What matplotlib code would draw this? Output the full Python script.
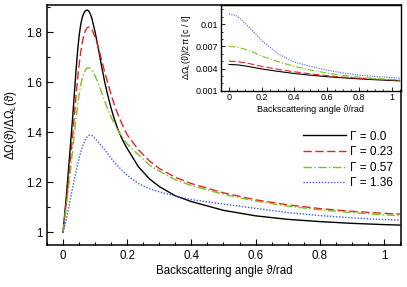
import matplotlib
matplotlib.use("Agg")
import matplotlib.pyplot as plt
from matplotlib.ticker import MultipleLocator

plt.rcParams['font.family'] = ['Liberation Sans', 'DejaVu Sans']
plt.rcParams['mathtext.fontset'] = 'custom'
plt.rcParams['mathtext.rm'] = 'Liberation Sans'
plt.rcParams['mathtext.it'] = 'Liberation Sans:italic'

# main panel: relative width vs angle
theta = [0, 0.01, 0.02, 0.03, 0.04, 0.045, 0.05, 0.055, 0.06, 0.065, 0.07, 0.075, 0.08,
         0.085, 0.09, 0.10, 0.11, 0.12, 0.13, 0.14, 0.15, 0.16, 0.17, 0.18, 0.19, 0.20,
         0.235, 0.27, 0.30, 0.35, 0.40, 0.50, 0.60, 0.70, 0.80, 0.90, 1.00, 1.05]
ratio_g000 = [1.0, 1.14, 1.30, 1.46, 1.64, 1.72, 1.785, 1.83, 1.86, 1.877, 1.886, 1.889, 1.885,
              1.873, 1.855, 1.80, 1.735, 1.665, 1.60, 1.545, 1.495, 1.452, 1.415, 1.385, 1.358, 1.335,
              1.262, 1.213, 1.183, 1.146, 1.123, 1.088, 1.066, 1.052, 1.043, 1.036, 1.031, 1.029]
ratio_g023 = [1.0, 1.12, 1.25, 1.39, 1.54, 1.61, 1.67, 1.72, 1.76, 1.79, 1.808, 1.818, 1.821,
              1.818, 1.81, 1.78, 1.74, 1.69, 1.64, 1.595, 1.55, 1.51, 1.475, 1.445, 1.415, 1.39,
              1.33, 1.285, 1.255, 1.22, 1.195, 1.158, 1.13, 1.11, 1.095, 1.084, 1.076, 1.073]
ratio_g057 = [1.0, 1.10, 1.21, 1.33, 1.45, 1.505, 1.55, 1.588, 1.617, 1.637, 1.65, 1.657, 1.658,
              1.655, 1.648, 1.625, 1.595, 1.56, 1.525, 1.49, 1.46, 1.435, 1.41, 1.39, 1.37, 1.353,
              1.31, 1.268, 1.245, 1.21, 1.187, 1.152, 1.125, 1.105, 1.09, 1.079, 1.07, 1.067]
ratio_g136 = [1.0, 1.05, 1.115, 1.18, 1.24, 1.27, 1.297, 1.32, 1.34, 1.358, 1.372, 1.382, 1.388,
              1.389, 1.387, 1.375, 1.36, 1.345, 1.33, 1.313, 1.296, 1.28, 1.266, 1.253, 1.24, 1.228,
              1.195, 1.174, 1.162, 1.145, 1.131, 1.113, 1.096, 1.079, 1.067, 1.058, 1.051, 1.049]

# inset: absolute linewidth
theta_in = [0, 0.05, 0.1, 0.15, 0.2, 0.3, 0.4, 0.5, 0.6, 0.7, 0.8, 0.9, 1.0, 1.05]
width_g000 = [0.00455, 0.00450, 0.00435, 0.00415, 0.00395, 0.00362, 0.00333, 0.00310,
              0.00290, 0.00274, 0.00260, 0.00248, 0.00238, 0.00233]
width_g023 = [0.0050, 0.00495, 0.00478, 0.00455, 0.00430, 0.00390, 0.00356, 0.00328,
              0.00305, 0.00285, 0.00268, 0.00256, 0.00246, 0.00241]
width_g057 = [0.0070, 0.00690, 0.00660, 0.00620, 0.00570, 0.00495, 0.00430, 0.00380,
              0.00340, 0.00308, 0.00283, 0.00265, 0.00251, 0.00245]
width_g136 = [0.0114, 0.0111, 0.0101, 0.0090, 0.0078, 0.0060, 0.0049, 0.0043,
              0.0038, 0.0034, 0.0031, 0.00293, 0.00278, 0.00270]

labels = ['Γ = 0.0', 'Γ = 0.23', 'Γ = 0.57', 'Γ = 1.36']
colors = ['black', '#e8231f', '#78c21e', '#3a5cf0']
styles = [dict(ls='-'), dict(dashes=(6, 2.5)), dict(dashes=(6, 1.8, 1, 1.8)), dict(dashes=(1, 1.2))]

fig = plt.figure(figsize=(4.07, 2.87), dpi=100)
ax = fig.add_axes([0.1155, 0.146, 0.8695, 0.8366])
ins = fig.add_axes([0.543, 0.684, 0.442, 0.2986])

for y, c, s, lab in zip([ratio_g000, ratio_g023, ratio_g057, ratio_g136], colors, styles, labels):
    ax.plot(theta, y, color=c, lw=1.0, label=lab, **s)
for y, c, s in zip([width_g000, width_g023, width_g057, width_g136], colors, styles):
    ins.plot(theta_in, y, color=c, lw=0.8, **s)

ax.set_xlim(-0.05, 1.053)
ax.set_ylim(0.949, 1.909)
ax.set_xticks([0, 0.2, 0.4, 0.6, 0.8, 1.0])
ax.set_xticklabels(['0', '0.2', '0.4', '0.6', '0.8', '1'])
ax.xaxis.set_minor_locator(MultipleLocator(0.05))
ax.set_yticks([1.0, 1.2, 1.4, 1.6, 1.8])
ax.set_yticklabels(['1', '1.2', '1.4', '1.6', '1.8'])
ax.yaxis.set_minor_locator(MultipleLocator(0.1))
ax.tick_params(which='both', direction='in', labelsize=8.3, width=0.8)
ax.tick_params(which='major', length=4)
ax.tick_params(which='minor', length=2)
ax.set_xlabel('Backscattering angle ϑ/rad', fontsize=8.3, labelpad=2)
ax.set_ylabel('ΔΩ(ϑ)/ΔΩ$_{\\mathrm{L}}$(ϑ)', fontsize=8.3, labelpad=5)
for sp in ax.spines.values():
    sp.set_linewidth(1.1)

ins.set_xlim(-0.049, 1.057)
ins.set_ylim(0.001, 0.0126)
ins.set_xticks([0, 0.2, 0.4, 0.6, 0.8, 1.0])
ins.set_xticklabels(['0', '0.2', '0.4', '0.6', '0.8', '1'])
ins.xaxis.set_minor_locator(MultipleLocator(0.05))
ins.set_yticks([0.001, 0.004, 0.007, 0.01])
ins.set_yticklabels(['0.001', '0.004', '0.007', '0.01'])
ins.yaxis.set_minor_locator(MultipleLocator(0.001))
ins.tick_params(which='both', direction='in', labelsize=6.5, width=0.6, pad=2)
ins.tick_params(which='major', length=3)
ins.tick_params(which='minor', length=1.5)
ins.set_xlabel('Backscattering angle ϑ/rad', fontsize=6.5, labelpad=1.5)
ins.set_ylabel('ΔΩ$_{\\mathrm{L}}$(ϑ)/2π [c / ℓ]', fontsize=6.5, labelpad=2)
for sp in ins.spines.values():
    sp.set_linewidth(1.0)

ax.legend(loc='upper left', bbox_to_anchor=(0.7445, 0.545), bbox_transform=fig.transFigure,
          frameon=False, fontsize=8.5, handlelength=3.6, handletextpad=0.35,
          labelspacing=0.3, borderpad=0, borderaxespad=0)

fig.savefig('out.png', dpi=100)
